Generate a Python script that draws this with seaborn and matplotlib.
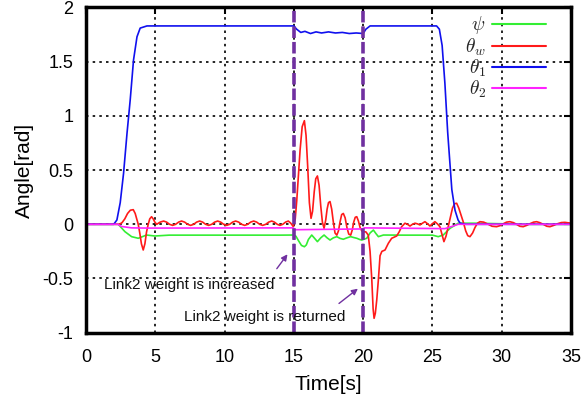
import matplotlib
matplotlib.use("Agg")
import matplotlib.pyplot as plt
import seaborn as sns
import pandas as pd

# ---- data: (time [s], angle [rad]) samples for each joint ----
psi_pts = [
    (0, 0), (2.33, 0), (2.81, -0.068), (3.29, -0.114), (3.77, -0.129), (4.37, -0.099),
    (4.97, -0.108), (6.0, -0.1), (8.0, -0.1), (10.0, -0.1), (12.0, -0.1), (14.0, -0.1),
    (14.97, -0.099), (15.15, -0.11), (15.33, -0.15), (15.55, -0.195), (15.76, -0.207),
    (15.9, -0.19), (16.05, -0.14), (16.29, -0.099), (16.5, -0.13), (16.7, -0.16),
    (16.94, -0.125), (17.18, -0.099), (17.4, -0.125), (17.61, -0.145), (17.85, -0.125),
    (18.1, -0.114), (18.33, -0.13), (18.57, -0.138), (18.83, -0.125), (19.1, -0.114),
    (19.32, -0.122), (19.54, -0.129), (19.75, -0.14), (19.9, -0.145), (20.26, -0.129),
    (20.5, -0.08), (20.74, -0.053), (20.92, -0.085), (21.1, -0.114), (21.46, -0.099),
    (23.0, -0.1), (25.0, -0.1), (25.42, -0.114), (25.78, -0.099), (26.27, -0.037),
    (26.86, 0.01), (28.0, 0.01), (30.0, 0.005), (31.0, 0), (35.0, 0),
]

theta_w_pts = [
    (0, 0), (2.4, 0.0), (2.6, 0.015), (2.8, 0.05), (3.0, 0.1), (3.2, 0.13), (3.41, 0.135),
    (3.55, 0.1), (3.68, 0.04), (3.77, 0.0), (3.88, -0.08), (4.0, -0.18), (4.13, -0.237),
    (4.25, -0.18), (4.37, -0.07), (4.49, 0.0), (4.6, 0.05), (4.73, 0.07), (4.85, 0.05),
    (4.97, 0.02), (5.1, 0.0), (5.35, 0.02),
    (5.6, 0.03), (5.82, 0.02), (6.03, 0.0), (6.25, -0.01), (6.47, 0.0), (6.68, 0.02),
    (6.9, 0.03), (7.12, 0.02), (7.33, 0.0), (7.55, -0.01), (7.77, 0.0), (7.98, 0.02),
    (8.2, 0.03), (8.42, 0.02), (8.63, 0.0), (8.85, -0.01), (9.07, 0.0), (9.28, 0.02),
    (9.5, 0.03), (9.72, 0.02), (9.93, 0.0), (10.15, -0.01), (10.37, 0.0), (10.58, 0.02),
    (10.8, 0.03), (11.02, 0.02), (11.23, 0.0), (11.45, -0.01), (11.67, 0.0), (11.88, 0.02),
    (12.1, 0.03), (12.32, 0.02), (12.53, 0.0), (12.75, -0.01), (12.97, 0.0), (13.18, 0.02),
    (13.4, 0.03), (13.6, 0.02), (13.8, 0.0), (14.0, -0.01), (14.2, 0.0), (14.4, 0.02),
    (14.6, 0.03), (14.78, 0.01), (14.95, -0.02),
    (15.1, 0.05), (15.21, 0.22), (15.33, 0.45), (15.45, 0.685), (15.6, 0.9), (15.76, 0.956),
    (15.88, 0.82), (16.0, 0.53), (16.12, 0.2), (16.24, 0.055), (16.35, 0.12), (16.47, 0.3),
    (16.58, 0.42), (16.7, 0.446), (16.82, 0.36), (16.94, 0.17), (17.06, 0.02),
    (17.18, -0.037), (17.3, 0.04), (17.4, 0.14), (17.5, 0.2), (17.61, 0.21), (17.73, 0.14),
    (17.85, 0.02), (17.97, -0.08), (18.1, -0.1), (18.22, -0.06), (18.33, 0.02),
    (18.45, 0.09), (18.57, 0.10), (18.7, 0.06), (18.83, -0.03), (18.96, -0.09),
    (19.1, -0.1), (19.22, -0.05), (19.32, 0.02), (19.43, 0.065), (19.54, 0.07),
    (19.66, 0.03), (19.78, -0.03), (19.9, -0.06), (20.01, -0.068), (20.2, -0.07),
    (20.37, -0.1), (20.5, -0.25), (20.62, -0.5), (20.72, -0.78), (20.79, -0.867),
    (20.88, -0.82), (20.98, -0.70), (21.1, -0.51), (21.22, -0.29), (21.35, -0.25),
    (21.58, -0.237), (21.82, -0.175), (22.06, -0.129), (22.42, -0.108), (22.6, -0.07),
    (22.78, -0.022), (23.02, 0.01), (23.2, 0.0), (23.38, -0.016), (23.56, 0.0),
    (23.74, 0.01), (23.92, 0.004), (24.1, -0.006), (24.28, 0.01), (24.46, 0.024),
    (24.64, 0.006), (24.82, -0.016), (25.0, 0.006), (25.18, 0.024), (25.36, 0.004),
    (25.54, -0.022), (25.7, -0.1), (25.83, -0.16), (25.98, -0.11), (26.14, -0.022),
    (26.3, 0.07), (26.45, 0.15), (26.6, 0.19), (26.75, 0.194), (26.9, 0.15), (27.0, 0.11),
    (27.22, 0.024), (27.4, -0.06), (27.55, -0.105), (27.71, -0.114), (27.9, -0.08),
    (28.07, -0.03), (28.25, 0.01), (28.43, 0.024), (28.7, 0.02), (29.03, 0.0),
    (29.3, -0.018), (29.63, -0.022), (29.9, -0.012), (30.11, 0.005), (30.35, 0.02),
    (30.59, 0.024), (30.85, 0.015), (31.07, 0.0), (31.3, -0.018), (31.55, -0.022),
    (31.8, -0.01), (32.03, 0.005), (32.3, 0.02), (32.52, 0.024), (32.75, 0.015),
    (33.0, 0.0), (33.25, -0.018), (33.48, -0.022), (33.75, -0.01), (34.02, 0.005),
    (34.3, 0.016), (34.56, 0.018), (34.8, 0.014), (35.0, 0.01),
]

theta1_pts = [
    (0, 0), (2.0, 0), (2.23, 0.04), (2.47, 0.2), (2.71, 0.47), (2.96, 0.84),
    (3.19, 1.147), (3.43, 1.516), (3.68, 1.73), (3.91, 1.81), (4.4, 1.83), (5.0, 1.83),
    (15.0, 1.83), (15.2, 1.80), (15.5, 1.77), (15.8, 1.78), (16.2, 1.76), (16.6, 1.775),
    (17.0, 1.765), (17.5, 1.775), (18.0, 1.765), (18.5, 1.77), (19.0, 1.76),
    (19.5, 1.765), (20.0, 1.76), (20.2, 1.80), (20.5, 1.83), (25.3, 1.83), (25.5, 1.80),
    (25.7, 1.65), (25.9, 1.3), (26.1, 0.85), (26.4, 0.32), (26.63, 0.13), (26.85, 0.04),
    (27.0, 0.01), (27.4, 0), (35.0, 0),
]

theta2_pts = [
    (0, 0), (2.3, 0), (2.57, -0.02), (3.29, -0.033), (4.5, -0.035), (14.95, -0.033),
    (15.1, -0.05), (17.0, -0.047), (19.95, -0.043), (20.1, -0.033), (25.9, -0.04),
    (26.4, -0.02), (26.86, 0), (35.0, 0),
]

series_labels = [r"$\psi$", r"$\theta_w$", r"$\theta_1$", r"$\theta_2$"]
series_points = [psi_pts, theta_w_pts, theta1_pts, theta2_pts]
series_colors = ["#33ee33", "#ff1a1a", "#1010ee", "#ff22ff"]

event_times = [15, 20]
event_texts = ["Link2 weight is increased", "Link2 weight is returned"]

x_ticks = [0, 5, 10, 15, 20, 25, 30, 35]
y_ticks = [-1, -0.5, 0, 0.5, 1, 1.5, 2]
y_tick_labels = ["-1", "-0.5", "0", "0.5", "1", "1.5", "2"]

# ---- styling ----
sns.set_theme(style="white")
plt.rcParams["font.family"] = ["Liberation Sans", "DejaVu Sans"]
plt.rcParams["mathtext.fontset"] = "cm"

W, H = 585, 407
fig = plt.figure(figsize=(W / 100, H / 100), dpi=100)
left, right, top, bottom = 86, 571, 7.5, 332.7
ax = fig.add_axes([left / W, 1 - bottom / H, (right - left) / W, (bottom - top) / H])

frames = []
for lab, pts in zip(series_labels, series_points):
    df = pd.DataFrame(pts, columns=["Time", "Angle"])
    df["series"] = lab
    frames.append(df)
data = pd.concat(frames, ignore_index=True)

for lab, col in zip(series_labels, series_colors):
    sns.lineplot(data=data[data["series"] == lab], x="Time", y="Angle", color=col,
                 label=lab, linewidth=1.2, estimator=None, sort=False, ax=ax, zorder=2)

purple = "#7030a0"
for t in event_times:
    ax.axvline(t, color=purple, linewidth=2.6, linestyle=(0, (3.2, 1.1)), zorder=3)

# annotation texts and arrows
ax.text(7.45, -0.56, event_texts[0], fontsize=11, ha="center", va="center", color="#111111")
ax.annotate("", xy=(14.66, -0.256), xytext=(13.65, -0.43),
            arrowprops=dict(arrowstyle="-|>", color=purple, lw=1.0, mutation_scale=9))
ax.text(12.89, -0.852, event_texts[1], fontsize=11, ha="center", va="center", color="#111111")
ax.annotate("", xy=(19.78, -0.578), xytext=(18.1, -0.746),
            arrowprops=dict(arrowstyle="-|>", color=purple, lw=1.0, mutation_scale=9))

ax.set_xlim(0, 35)
ax.set_ylim(-1, 2)
ax.set_xticks(x_ticks)
ax.set_xticklabels([str(v) for v in x_ticks])
ax.set_yticks(y_ticks)
ax.set_yticklabels(y_tick_labels)
ax.tick_params(direction="in", top=True, right=True, length=5, width=1.5,
               labelsize=13, colors="black")
ax.tick_params(axis="x", pad=12)
ax.tick_params(axis="y", pad=9)
ax.set_xlabel("Time[s]", fontsize=15, color="black", labelpad=6)
ax.set_ylabel("Angle[rad]", fontsize=15, color="black", labelpad=6)

ax.grid(True, color="black", linestyle=(0, (1.5, 2.5)), linewidth=1.2)
ax.set_axisbelow(True)
for sp in ax.spines.values():
    sp.set_linewidth(2.5)
    sp.set_color("black")
    sp.set_zorder(4)

leg = ax.legend(loc="upper right", frameon=False, markerfirst=False, fontsize=14,
                handlelength=2.8, handletextpad=0.3, labelspacing=0.0,
                borderaxespad=0.0, borderpad=0.0,
                bbox_to_anchor=((546 - left) / (right - left), 1 - 7 / (bottom - top)))
for h in leg.get_lines():
    h.set_linewidth(1.5)

fig.savefig("out.png", dpi=100)
